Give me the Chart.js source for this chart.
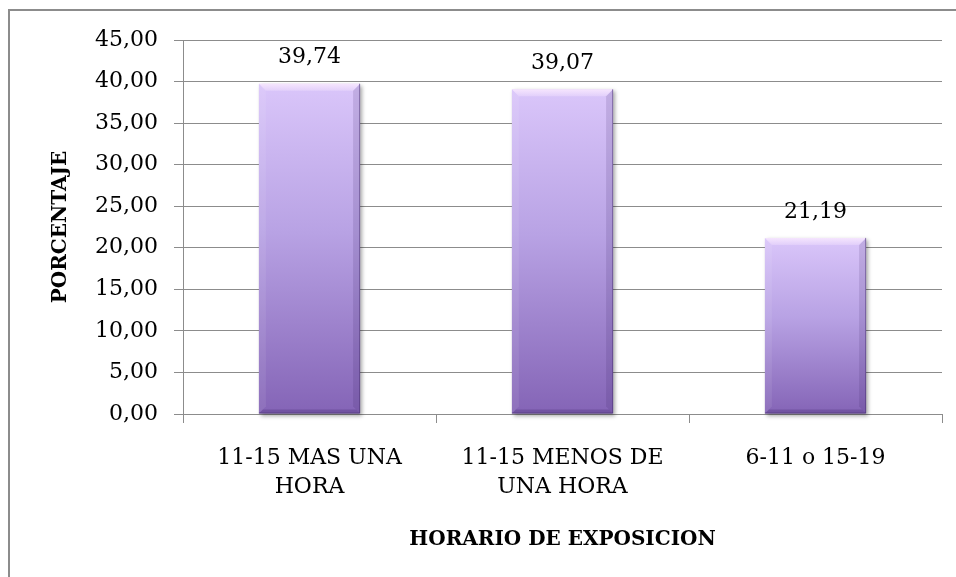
<!DOCTYPE html>
<html>
<head>
<meta charset="utf-8">
<script src="https://cdn.jsdelivr.net/npm/chart.js@4.4.1/dist/chart.umd.min.js"></script>
<style>
    html, body { margin: 0; padding: 0; background: #fff; overflow: hidden; }
    #wrap { position: relative; width: 956px; height: 577px; }
    #frame { position: absolute; left: 8px; top: 9px; width: 1000px; height: 700px; border: 2px solid #8c8c8c; }
    canvas { position: absolute; left: 0; top: 0; }
</style>
</head>
<body>
<div id="wrap">
    <div id="frame"></div>
    <canvas id="horarioChart" width="956" height="577"></canvas>
</div>
<script>
const horarios = [['11-15 MAS UNA', 'HORA'], ['11-15 MENOS DE', 'UNA HORA'], '6-11 o 15-19'];
const porcentajes = [39.74, 39.07, 21.19];
const yMin = 0, yMax = 45, yStep = 5;

const fmt = v => Number(v).toFixed(2).replace('.', ',');
const GRID = '#8c8c8c';

Chart.defaults.font.family = '"DejaVu Serif", "Liberation Serif", serif';
Chart.defaults.color = '#000';

// vertical lavender -> purple fill for each bar, from its top down to zero
function barGradient(ctx) {
    const chart = ctx.chart;
    const y = chart.scales.y;
    if (!chart.chartArea || !y || ctx.type !== 'data') return '#b09cdc';
    const top = y.getPixelForValue(ctx.parsed ? ctx.parsed.y : porcentajes[ctx.dataIndex]);
    const bottom = y.getPixelForValue(0);
    const g = chart.ctx.createLinearGradient(0, top, 0, bottom);
    g.addColorStop(0, 'rgb(218,198,250)');
    g.addColorStop(0.45, 'rgb(184,162,228)');
    g.addColorStop(1, 'rgb(132,100,182)');
    return g;
}

// soft drop shadow under the bars
const shadowPlugin = {
    id: 'barShadow',
    beforeDatasetDraw(chart) {
        const c = chart.ctx;
        c.save();
        c.shadowColor = 'rgba(0,0,0,0.35)';
        c.shadowBlur = 4;
        c.shadowOffsetX = 2;
        c.shadowOffsetY = 2;
    },
    afterDatasetDraw(chart) {
        chart.ctx.restore();
    }
};

// bevelled edges + value labels on top
const bevelPlugin = {
    id: 'bevel',
    afterDatasetsDraw(chart) {
        const c = chart.ctx;
        const meta = chart.getDatasetMeta(0);
        const b = 7;
        meta.data.forEach((bar, i) => {
            const { x, y, base, width } = bar.getProps(['x', 'y', 'base', 'width'], true);
            const l = x - width / 2, r = x + width / 2, t = y, btm = base;
            const poly = (pts, fill) => {
                c.beginPath();
                c.moveTo(pts[0][0], pts[0][1]);
                pts.slice(1).forEach(p => c.lineTo(p[0], p[1]));
                c.closePath();
                c.fillStyle = fill;
                c.fill();
            };
            c.save();
            const hi = c.createLinearGradient(0, t, 0, t + b);
            hi.addColorStop(0, 'rgba(255,240,255,0.75)');
            hi.addColorStop(1, 'rgba(255,240,255,0.25)');
            poly([[l, t], [r, t], [r - b, t + b], [l + b, t + b]], hi);
            poly([[l, t], [l + b, t + b], [l + b, btm - b], [l, btm]], 'rgba(255,255,255,0.08)');
            poly([[r, t], [r - b, t + b], [r - b, btm - b], [r, btm]], 'rgba(50,25,90,0.14)');
            poly([[l, btm], [l + 4, btm - 4], [r - 4, btm - 4], [r, btm]], 'rgba(50,25,90,0.22)');
            c.strokeStyle = 'rgba(70,45,110,0.5)';
            c.lineWidth = 1;
            c.beginPath();
            c.moveTo(r - 0.5, t);
            c.lineTo(r - 0.5, btm - 0.5);
            c.lineTo(l, btm - 0.5);
            c.stroke();

            c.fillStyle = '#000';
            c.font = '22px "DejaVu Serif", serif';
            c.textAlign = 'center';
            c.textBaseline = 'middle';
            c.fillText(fmt(porcentajes[i]), x, t - 26);
            c.restore();
        });
    }
};

new Chart(document.getElementById('horarioChart'), {
    type: 'bar',
    data: {
        labels: horarios,
        datasets: [{
            data: porcentajes,
            backgroundColor: barGradient,
            borderWidth: 0,
            categoryPercentage: 1.0,
            barPercentage: 0.4,
            clip: false
        }]
    },
    options: {
        responsive: false,
        animation: false,
        events: [],
        layout: { padding: { left: 20, top: 40, right: 14, bottom: 10 } },
        plugins: { legend: { display: false }, tooltip: { enabled: false } },
        scales: {
            x: {
                afterFit: s => { s.height = 153; },
                grid: { display: true, drawOnChartArea: false, drawTicks: true, tickLength: 9, color: GRID, offset: true },
                border: { display: true, color: GRID, width: 1 },
                ticks: { font: { size: 22, lineHeight: 1.32 }, padding: 21, maxRotation: 0, autoSkip: false },
                title: { display: true, text: 'HORARIO DE EXPOSICION', font: { size: 20, weight: 'bold', lineHeight: 1.2 }, padding: { top: 0, bottom: 15 } }
            },
            y: {
                min: yMin,
                max: yMax,
                afterFit: s => { s.width = 163; },
                grid: { color: GRID, tickLength: 9, drawTicks: true },
                border: { display: true, color: GRID, width: 1 },
                ticks: { stepSize: yStep, font: { size: 22 }, padding: 16, callback: v => fmt(v) },
                title: { display: true, text: 'PORCENTAJE', font: { size: 20, weight: 'bold', lineHeight: 1.2 }, padding: { top: 29, bottom: 0 } }
            }
        }
    },
    plugins: [shadowPlugin, bevelPlugin]
});
</script>
</body>
</html>
